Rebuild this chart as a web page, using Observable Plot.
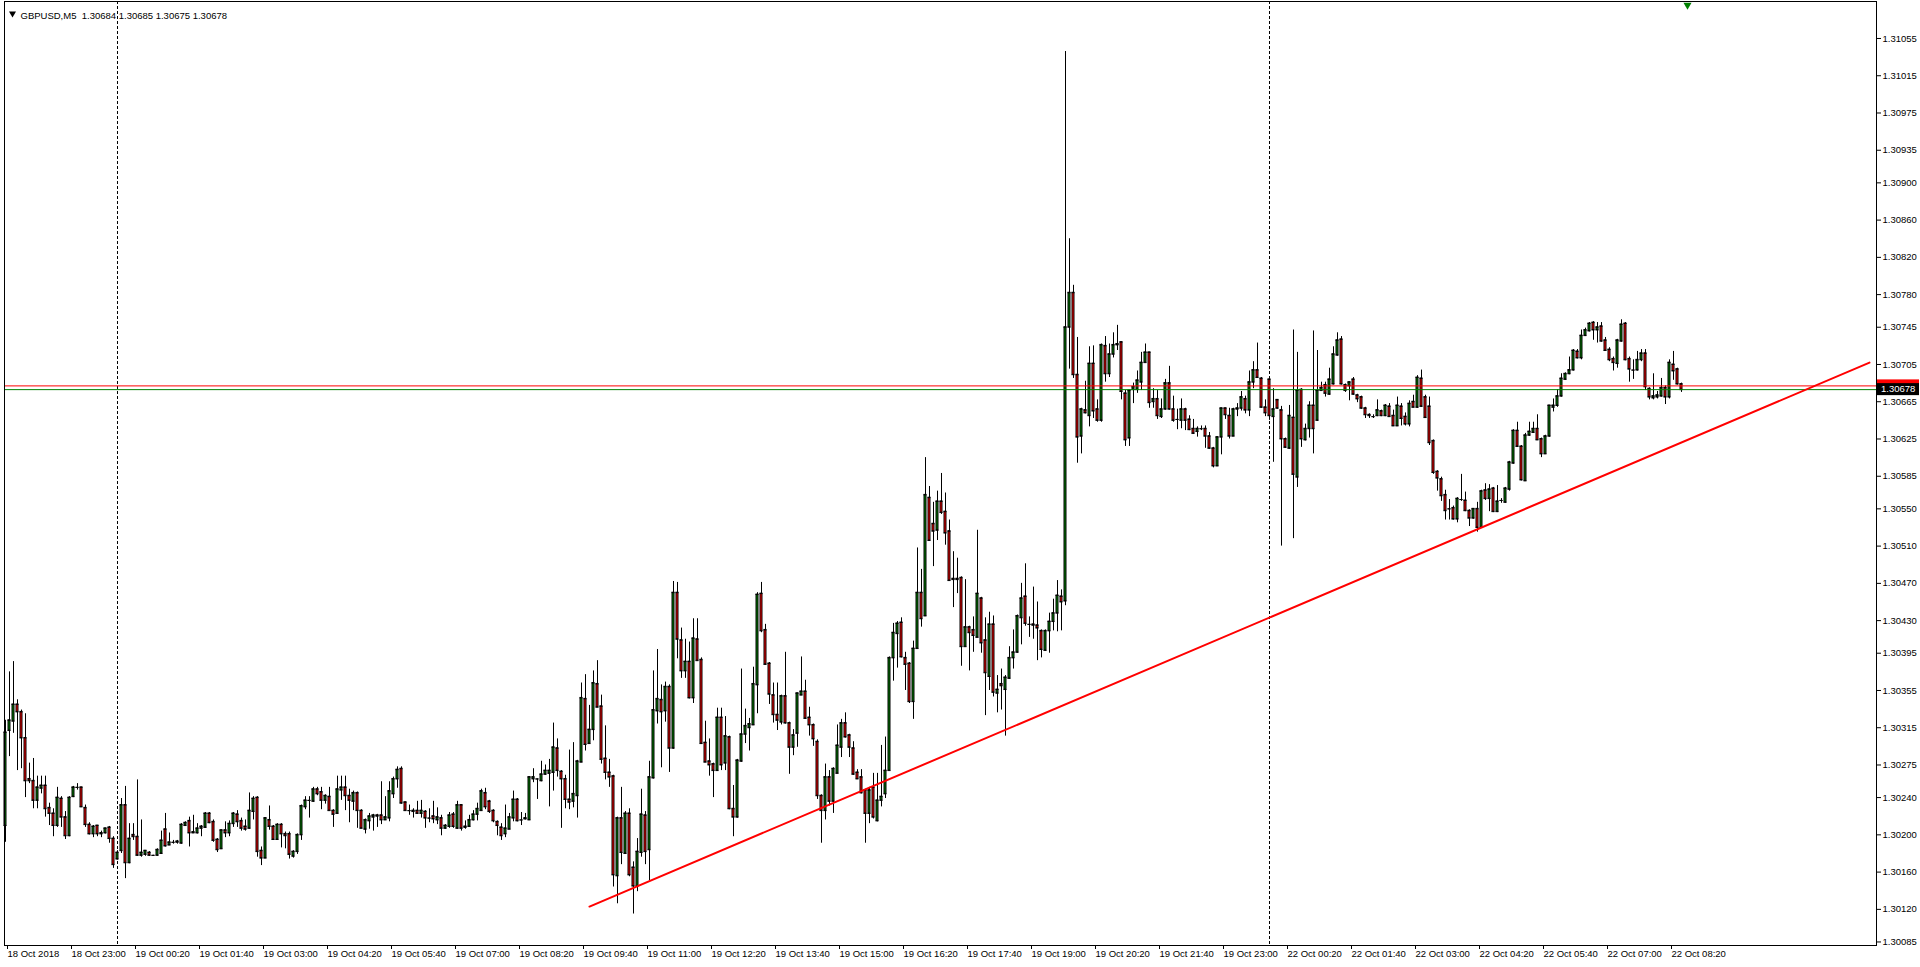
<!DOCTYPE html>
<html><head><meta charset="utf-8">
<script src="https://cdn.jsdelivr.net/npm/d3@7"></script>
<script src="https://cdn.jsdelivr.net/npm/@observablehq/plot@0.6"></script>
<style>
html,body{margin:0;padding:0;background:#fff;overflow:hidden;}
#chart svg text{white-space:pre;}
</style></head>
<body><div id="chart"></div>
<script>
// GBPUSD M5 candles, values in points above 1.30000 (1 point = 0.00001)
const BASE_PRICE = 1.3, POINT = 0.00001;
const openPts = [
210,312,322,340,332,304,260,258,237,250, 253,229,223,210,239,219,199,241,251,251,
229,211,201,210,201,202,208,196,174,183, 232,170,200,198,178,179,181,178,178,180,
206,189,192,192,191,210,215,202,202,207, 208,223,214,195,185,205,202,212,222,215,
209,207,225,240,183,175,216,209,195,211, 201,201,177,182,200,230,237,236,249,246,
237,241,226,223,248,251,242,236,245,226, 206,215,219,221,221,216,218,244,260,271,
235,226,226,226,223,225,218,220,216,218, 207,209,222,207,232,208,209,216,222,226,
245,236,226,214,208,201,206,218,238,216, 217,216,260,260,258,265,266,267,293,268,
260,238,236,242,278,346,298,313,362,338, 282,267,263,156,218,180,223,165,145,181,
221,184,261,333,345,333,359,293,460,409, 376,386,347,410,388,299,279,276,269,326,
277,305,228,219,279,308,315,318,361,459, 420,384,350,329,321,349,320,294,309,350,
354,326,318,300,242,226,262,236,266,294, 320,307,293,267,262,248,223,251,215,237,
244,269,390,416,428,390,384,343,400,460, 435,562,534,527,558,547,526,475,474,476,
402,423,420,412,454,409,370,426,352,362, 356,368,390,396,433,456,426,426,425,419,
398,419,429,438,456,451,745,782,694,628, 656,650,706,657,645,725,695,716,726,729,
674,626,678,678,686,707,718,665,668,649, 657,685,657,646,645,657,646,636,633,636,
636,628,615,596,627,658,650,628,657,658, 668,656,686,699,690,659,689,649,667,656,
625,615,648,584,678,624,636,661,645,677, 683,673,684,715,732,683,682,689,672,670,
658,651,649,650,655,650,660,650,639,660, 649,641,665,659,690,670,660,623,590,582,
565,550,551,539,560,559,548,540,550,530, 570,561,572,547,559,557,571,599,634,617,
580,629,632,636,625,609,628,659,661,671, 689,695,699,719,712,736,741,750,742,746,
731,721,711,706,730,749,711,699,699,710, 717,679,669,670,671,680,670,705,700,684];
const highPts = [
323,375,386,345,334,330,277,282,263,263, 263,234,228,251,241,225,241,252,255,251,
232,213,210,210,204,207,209,198,183,239, 252,212,212,259,216,183,182,178,185,204,
223,202,194,194,212,214,219,221,212,210, 224,224,216,196,205,214,215,224,226,218,
216,245,241,241,187,218,231,210,212,212, 203,203,183,201,232,241,241,251,251,251,
243,251,227,263,263,263,249,247,246,227, 217,223,222,222,257,241,257,262,273,273,
235,232,228,236,237,226,228,236,229,221, 211,224,224,236,232,215,221,226,234,249,
250,237,227,215,212,232,223,247,239,224, 223,262,271,260,279,275,281,320,303,269,
264,291,299,280,363,372,339,376,387,350, 317,281,264,219,251,225,228,171,196,249,
225,279,376,399,361,364,361,472,471,422, 410,407,432,432,390,322,303,277,336,336,
327,306,253,281,378,335,325,380,460,471, 426,385,363,363,350,396,321,313,352,391,
366,337,319,302,243,276,269,272,318,324, 331,308,300,270,270,249,251,266,266,296,
305,391,427,429,433,396,385,408,508,485, 605,574,557,569,588,567,538,504,497,477,
474,424,434,527,455,433,439,435,371,378, 371,402,420,436,470,491,434,466,450,420,
420,438,453,473,463,1041,840,790,734,658, 687,724,725,667,727,735,727,739,747,729,
677,677,685,698,718,727,718,679,677,668, 689,703,671,657,668,658,650,646,638,639,
639,632,616,627,658,658,658,658,663,676, 671,698,708,728,691,667,690,679,667,660,
626,661,742,718,679,641,665,741,720,686, 686,701,724,739,735,684,686,691,673,671,
659,652,651,667,656,662,663,656,670,663, 653,666,672,693,699,672,670,624,591,584,
570,560,553,562,587,568,549,550,557,570, 577,576,573,575,561,573,601,635,643,618,
631,643,643,651,626,629,661,668,678,695, 696,713,721,721,742,744,750,751,750,750,
734,723,713,732,753,750,713,710,719,721, 721,680,695,676,690,682,710,719,701,685];
const lowPts = [
192,284,309,269,271,240,255,228,228,244, 219,210,198,208,208,195,198,240,248,230,
208,200,197,198,197,201,191,164,173,180, 153,169,194,177,176,177,177,177,177,179,
187,189,190,190,190,209,187,202,201,198, 207,212,192,181,185,197,198,208,208,204,
204,206,216,176,167,175,205,194,194,186, 185,174,175,179,194,227,218,235,242,227,
233,226,208,222,237,226,213,226,207,207, 201,206,204,208,211,216,214,239,250,233,
226,221,218,222,218,207,213,212,211,199, 206,207,207,206,204,206,208,215,215,226,
227,223,213,199,194,197,206,214,214,210, 216,216,256,238,257,264,230,247,262,207,
228,227,229,218,278,290,298,301,337,276, 259,251,144,126,168,179,155,115,139,176,
168,151,260,319,272,321,267,292,389,368, 368,346,341,387,297,278,263,240,268,269,
269,227,198,218,278,298,290,318,330,417, 382,340,320,312,318,319,265,285,294,350,
324,306,295,238,191,216,231,223,266,283, 304,283,264,260,244,191,212,217,214,230,
239,269,365,379,390,355,341,324,400,423, 435,515,488,516,544,511,473,444,459,381,
402,376,396,412,395,328,355,348,331,334, 306,367,378,395,404,424,412,410,387,390,
397,395,419,418,419,446,700,690,599,609, 652,638,647,643,643,686,691,712,720,667,
617,617,663,674,677,707,658,658,646,647, 656,656,643,635,636,634,634,630,627,634,
615,614,594,596,608,646,625,628,649,655, 652,649,679,690,658,649,645,600,657,510,
615,614,518,573,616,623,626,609,644,677, 670,672,683,714,683,675,666,672,664,657,
647,647,647,649,649,649,649,639,639,639, 639,638,659,658,659,647,618,587,569,558,
538,538,538,535,558,547,531,539,525,529, 559,547,546,546,556,556,569,598,616,580,
580,628,631,624,605,609,627,654,659,670, 688,694,698,711,710,735,740,731,728,729,
719,708,698,701,729,709,686,689,698,708, 677,667,667,668,670,662,668,688,683,675];
const closePts = [
310,323,340,332,304,258,258,237,251,253, 228,223,210,240,219,199,240,251,251,230,
211,201,209,201,202,207,196,168,181,232, 170,196,198,178,181,183,178,178,184,194,
188,192,192,193,211,213,202,203,207,209, 223,213,194,184,205,202,212,223,214,207,
206,226,239,182,175,218,209,195,211,201, 199,179,182,200,231,237,237,249,244,237,
242,226,222,249,251,242,237,245,226,207, 216,220,221,220,216,219,247,260,270,234,
226,226,225,223,226,218,218,217,219,207, 210,221,209,232,207,209,216,222,228,247,
230,225,215,210,199,207,219,238,215,216, 218,262,262,260,265,269,269,294,269,260,
238,235,244,279,347,297,313,363,337,281, 267,262,157,218,181,223,157,145,182,222,
182,262,334,346,332,359,293,460,410,376, 386,347,411,387,298,278,275,269,326,275,
306,228,219,280,308,317,319,362,458,419, 383,351,329,323,349,320,294,307,352,354,
325,318,303,242,226,262,236,271,296,320, 305,294,265,260,245,223,248,219,237,241,
269,390,417,427,391,383,343,400,460,432, 565,516,526,558,546,524,473,474,475,402,
423,417,414,459,406,374,426,353,356,360, 369,390,396,435,454,427,426,425,422,399,
419,429,438,457,450,745,782,694,627,657, 653,706,655,645,726,695,716,726,727,676,
624,677,681,688,707,718,664,668,650,657, 685,657,645,646,657,645,635,631,636,636,
628,615,596,627,658,651,628,657,658,670, 656,686,699,691,659,653,650,657,658,625,
616,650,587,677,625,636,661,636,677,680, 674,689,716,731,684,677,686,673,668,658,
651,650,649,656,650,661,649,639,661,647, 641,663,659,691,660,648,621,589,583,564,
548,550,539,561,560,548,540,550,530,569, 561,571,547,558,559,572,600,634,617,581,
629,633,636,624,609,628,661,661,671,690, 695,699,720,712,736,742,749,742,745,730,
720,710,707,731,748,710,700,699,710,717, 681,670,671,672,680,670,707,698,684,678];

const headerText = "GBPUSD,M5  1.30684 1.30685 1.30675 1.30678";
const xTickBars = [0,16,32,48,64,80,96,112,128,144,160,176,192,208,224,240,256,272,288,304,320,336,352,368,384,400,416];
const xTickLabels = ["18 Oct 2018","18 Oct 23:00","19 Oct 00:20","19 Oct 01:40","19 Oct 03:00","19 Oct 04:20","19 Oct 05:40","19 Oct 07:00","19 Oct 08:20","19 Oct 09:40","19 Oct 11:00","19 Oct 12:20","19 Oct 13:40","19 Oct 15:00","19 Oct 16:20","19 Oct 17:40","19 Oct 19:00","19 Oct 20:20","19 Oct 21:40","19 Oct 23:00","22 Oct 00:20","22 Oct 01:40","22 Oct 03:00","22 Oct 04:20","22 Oct 05:40","22 Oct 07:00","22 Oct 08:20"];
const yTickValues = [1.31055,1.31015,1.30975,1.30935,1.30900,1.30860,1.30820,1.30780,1.30745,1.30705,1.30665,1.30625,1.30585,1.30550,1.30510,1.30470,1.30430,1.30395,1.30355,1.30315,1.30275,1.30240,1.30200,1.30160,1.30120,1.30085];
const daySeparators = [28, 316];
const trendline = [{i: 146, price: 1.30123}, {i: 466, price: 1.30707}];
const bidPrice = 1.30678;
const askPrice = 1.30682;
const shiftMarker = [420.5];

const toPrice = p => +(BASE_PRICE + p * POINT).toFixed(5);
const bars = openPts.map((o, i) => ({
  i, open: toPrice(o), high: toPrice(highPts[i]), low: toPrice(lowPts[i]), close: toPrice(closePts[i])
}));
const labelOf = new Map(xTickBars.map((b, k) => [b, xTickLabels[k]]));

const W = 1920, H = 967, mL = 4, mR = 44, mT = 1, mB = 22;
const FONT = "Liberation Sans, Arial, sans-serif";
const BULL = "#008000", BEAR = "#ff0000";

const chart = Plot.plot({
  width: W, height: H,
  marginLeft: mL, marginRight: mR, marginTop: mT, marginBottom: mB,
  style: {fontFamily: FONT, fontSize: "9.5px", background: "#fff", color: "#000", overflow: "visible"},
  x: {type: "linear", domain: [-0.25, 467.75], axis: null},
  y: {type: "linear", domain: [1.300812, 1.310947], axis: null},
  marks: [
    Plot.ruleX(daySeparators, {stroke: "#000", strokeDasharray: "3,2"}),
    Plot.ruleX(bars, {x: "i", y1: "low", y2: "high", stroke: "#000", strokeWidth: 1}),
    Plot.rect(bars, {x1: d => d.i - 0.25, x2: d => d.i + 0.25, y1: "open", y2: "close",
      fill: d => d.close >= d.open ? BULL : BEAR, stroke: "#000", strokeWidth: 1}),
    Plot.ruleY(bars, {y: "open", x1: d => d.i - 0.375, x2: d => d.i + 0.375, stroke: "#000"}),
    Plot.ruleY(bars, {y: "close", x1: d => d.i - 0.375, x2: d => d.i + 0.375, stroke: "#000"}),
    Plot.ruleY([askPrice], {stroke: "#ff0000"}),
    Plot.ruleY([bidPrice], {stroke: BULL}),
    Plot.line(trendline, {x: "i", y: "price", stroke: "#ff0000", strokeWidth: 2}),
    Plot.frame({stroke: "#000"}),
    Plot.axisX(xTickBars, {anchor: "bottom", tickSize: 4, tickPadding: 1, label: null,
      tickFormat: d => labelOf.get(d), textAnchor: "start", dx: 2}),
    Plot.axisY(yTickValues, {anchor: "right", tickSize: 4, tickPadding: 2, label: null,
      tickFormat: d3.format(".5f")}),
    Plot.text([headerText], {text: d => d, frameAnchor: "top-left", dx: 16, dy: 11, textAnchor: "start", fill: "#000"}),
    Plot.dot([0], {frameAnchor: "top-left", dx: 8, dy: 12, symbol: "triangle", rotate: 180, r: 2.6, fill: "#000", stroke: null}),
    Plot.dot(shiftMarker, {x: d => d, frameAnchor: "top", dy: 3.5, symbol: "triangle", rotate: 180, r: 3, fill: BULL, stroke: null})
  ]
});

// price labels (ask/bid boxes) in the right price scale gutter
const yS = chart.scale("y");
const svg = d3.select(chart);
const gx = W - mR + 1;
svg.append("rect").attr("x", gx).attr("y", yS.apply(askPrice) - 6).attr("width", 42).attr("height", 12).attr("fill", "#ff0000");
svg.append("rect").attr("x", gx).attr("y", yS.apply(bidPrice) - 6).attr("width", 42).attr("height", 12).attr("fill", "#000");
svg.append("text").attr("x", gx + 4).attr("y", yS.apply(bidPrice)).attr("dy", "0.35em")
  .attr("text-anchor", "start")
  .attr("fill", "#fff").attr("font-family", FONT).attr("font-size", "9.5px").text(d3.format(".5f")(bidPrice));

document.getElementById("chart").append(chart);
</script>
</body></html>
